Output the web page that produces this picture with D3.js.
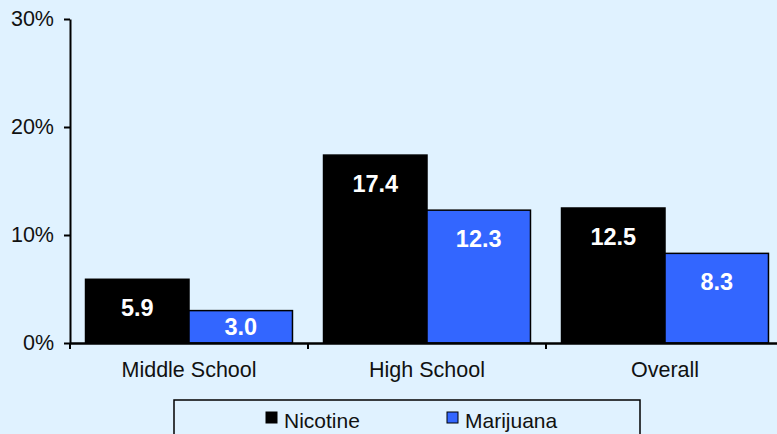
<!DOCTYPE html>
<html>
<head>
<meta charset="utf-8">
<script src="https://cdn.jsdelivr.net/npm/d3@7"></script>
<style>
  html, body { margin: 0; padding: 0; background: #E0F2FF; }
  svg { display: block; font-family: "Liberation Sans", Arial, sans-serif; }
</style>
</head>
<body>
<svg id="chart" width="777" height="434"></svg>
<script>
// Share of students reporting use, by school level
const categories = ["Middle School", "High School", "Overall"];
const seriesNames = ["Nicotine", "Marijuana"];
const nicotine = [5.9, 17.4, 12.5];
const marijuana = [3.0, 12.3, 8.3];
const yTicks = [0, 10, 20, 30];
const seriesColors = ["#000000", "#3366FF"];

const seriesValues = [nicotine, marijuana];
const rows = categories.map((c, i) => ({
  category: c,
  values: seriesNames.map((s, j) => ({ series: s, value: seriesValues[j][i], color: seriesColors[j] }))
}));

const svg = d3.select("#chart");
const x0Left = 70, x0Right = 784, yTop = 19, yBottom = 343;

const y = d3.scaleLinear().domain([0, 30]).range([yBottom, yTop]);
const x0 = d3.scaleBand().domain(categories).range([x0Left, x0Right]).padding(0);
const x1 = d3.scaleBand().domain(seriesNames).range([0, x0.bandwidth()])
  .paddingInner(0).paddingOuter(0.15);

// Y axis
const yAxis = d3.axisLeft(y).tickValues(yTicks).tickFormat(d => d + "%")
  .tickSizeInner(6).tickSizeOuter(0).tickPadding(10);
const gy = svg.append("g").attr("transform", `translate(${x0Left},0)`).call(yAxis);
gy.select(".domain").attr("stroke", "#000").attr("stroke-width", 2);
gy.selectAll(".tick line").attr("stroke", "#000").attr("stroke-width", 2);
gy.selectAll(".tick text").attr("font-size", 21.5).attr("fill", "#111")
  .attr("font-family", "'Liberation Sans', Arial, sans-serif");

// Bars
const groups = svg.append("g").selectAll("g").data(rows).join("g")
  .attr("transform", d => `translate(${x0(d.category)},0)`);

groups.selectAll("rect").data(d => d.values).join("rect")
  .attr("x", d => x1(d.series))
  .attr("y", d => y(d.value))
  .attr("width", x1.bandwidth())
  .attr("height", d => y(0) - y(d.value))
  .attr("fill", d => d.color)
  .attr("stroke", "#000")
  .attr("stroke-width", 1.5);

// Value labels inside the top of each bar
groups.selectAll("text.val").data(d => d.values).join("text")
  .attr("class", "val")
  .attr("x", d => x1(d.series) + x1.bandwidth() / 2)
  .attr("y", d => Math.min(y(d.value) + 29, (y(d.value) + y(0)) / 2))
  .attr("text-anchor", "middle")
  .attr("dominant-baseline", "central")
  .attr("fill", "#fff")
  .attr("font-weight", "bold")
  .attr("font-size", 23.5)
  .text(d => d.value.toFixed(1));

// X axis
const xAxis = d3.axisBottom(x0).tickSize(0).tickPadding(19);
const gx = svg.append("g").attr("transform", `translate(0,${yBottom})`).call(xAxis);
gx.select(".domain").attr("stroke", "#000").attr("stroke-width", 2.5);
gx.selectAll(".tick text").attr("font-size", 21.5).attr("fill", "#111")
  .attr("font-family", "'Liberation Sans', Arial, sans-serif");
// Category separators
gx.selectAll("line.sep").data(categories.map(c => x0(c)).concat([x0Right]))
  .join("line").attr("class", "sep")
  .attr("x1", d => d).attr("x2", d => d)
  .attr("y1", 0).attr("y2", 6)
  .attr("stroke", "#000").attr("stroke-width", 2);

// Legend
const legend = svg.append("g");
legend.append("rect")
  .attr("x", 174).attr("y", 400).attr("width", 466).attr("height", 50)
  .attr("fill", "none").attr("stroke", "#000").attr("stroke-width", 1.5);
const legendX = [266, 447];
const items = legend.selectAll("g.item").data(seriesNames).join("g")
  .attr("class", "item")
  .attr("transform", (d, i) => `translate(${legendX[i]},412)`);
items.append("rect")
  .attr("width", 11).attr("height", 11)
  .attr("fill", (d, i) => seriesColors[i])
  .attr("stroke", "#000").attr("stroke-width", 1);
items.append("text")
  .attr("x", 18).attr("y", 8)
  .attr("dominant-baseline", "central")
  .attr("font-size", 21).attr("fill", "#111")
  .text(d => d);
</script>
</body>
</html>
